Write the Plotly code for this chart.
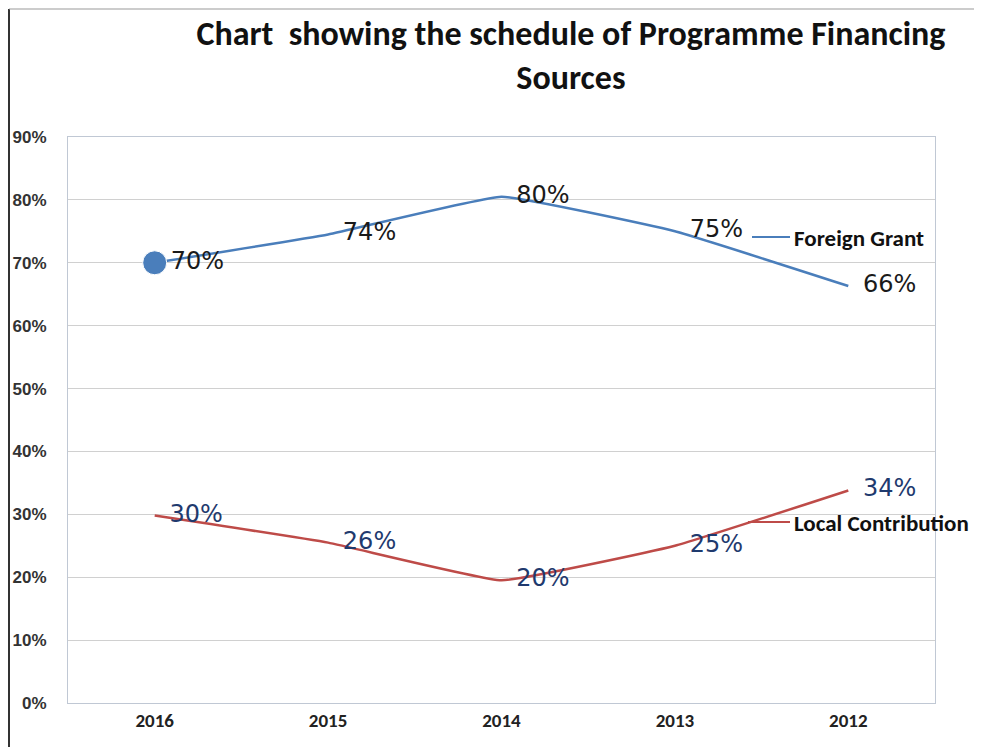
import plotly.graph_objects as go

years = ["2016", "2015", "2014", "2013", "2012"]
foreign_grant = [0.70, 0.745, 0.805, 0.75, 0.663]
foreign_labels = ["70%", "74%", "80%", "75%", "66%"]
local_contrib = [0.298, 0.255, 0.195, 0.25, 0.338]
local_labels = ["30%", "26%", "20%", "25%", "34%"]
y_ticks = [0, 0.1, 0.2, 0.3, 0.4, 0.5, 0.6, 0.7, 0.8, 0.9]

OFF = 8  # page offset of the rendered figure
W, H = 982, 747
L, R, T, B = 68 - OFF, 982 - (935 - OFF), 137 - OFF, 747 - (703 - OFF)
pw, ph = W - L - R, H - T - B

def px(x):
    return (x - OFF - L) / pw

def py(y):
    return 1 - (y - OFF - T) / ph

CAL = "Carlito, Liberation Sans Narrow, Open Sans"

fig = go.Figure()
fig.add_trace(go.Scatter(
    x=years, y=foreign_grant, mode="lines+markers+text",
    name="Foreign Grant",
    line=dict(color="#4a7ebb", width=2.5, shape="spline", smoothing=0.3),
    marker=dict(size=[24, 22, 22, 22, 22], color="#4a7ebb", opacity=[1, 0, 0, 0, 0]),
    text=foreign_labels, textposition="middle right",
    textfont=dict(family="DejaVu Sans", size=24, color="#1a1a1a"),
    cliponaxis=False,
))
fig.add_trace(go.Scatter(
    x=years, y=local_contrib, mode="lines+markers+text",
    name="Local Contribution",
    line=dict(color="#be4b48", width=2.5, shape="spline", smoothing=0.3),
    marker=dict(size=22, color="#be4b48", opacity=0),
    text=local_labels, textposition="middle right",
    textfont=dict(family="DejaVu Sans", size=24, color="#1f3a6e"),
    cliponaxis=False,
))

fig.add_shape(type="line", xref="paper", yref="paper",
              x0=px(752), x1=px(790), y0=py(237), y1=py(237),
              line=dict(color="#4a7ebb", width=2))
fig.add_shape(type="line", xref="paper", yref="paper",
              x0=px(748), x1=px(790), y0=py(522), y1=py(522),
              line=dict(color="#be4b48", width=2))
fig.add_annotation(xref="paper", yref="paper", x=px(792), y=py(238),
                   xanchor="left", yanchor="middle", showarrow=False,
                   text="<b>Foreign Grant</b>",
                   font=dict(family=CAL, size=23, color="#111"))
fig.add_annotation(xref="paper", yref="paper", x=px(792), y=py(523),
                   xanchor="left", yanchor="middle", showarrow=False,
                   text="<b>Local Contribution</b>",
                   font=dict(family=CAL, size=23, color="#111"))

# outer frame lines (left and top)
fig.add_shape(type="line", xref="paper", yref="paper",
              x0=px(9), x1=px(9), y0=py(760), y1=py(9),
              line=dict(color="#333", width=2))
fig.add_shape(type="line", xref="paper", yref="paper",
              x0=px(9), x1=px(990), y0=py(9), y1=py(9),
              line=dict(color="#999", width=1))

fig.update_layout(
    width=W, height=H,
    margin=dict(l=L, r=R, t=T, b=B, autoexpand=False),
    paper_bgcolor="white", plot_bgcolor="white",
    showlegend=False,
    title=dict(
        text="<b>Chart  showing the schedule of Programme Financing<br>Sources</b>",
        x=px(565), xanchor="center", y=1 - (45 - OFF) / H, yanchor="middle",
        font=dict(family=CAL, size=34, color="#111"),
    ),
)
fig.update_xaxes(
    type="category", showgrid=False, showline=True, linecolor="#c0c8d4",
    mirror=True, ticks="", range=[-0.5, 4.5], automargin=False,
    tickfont=dict(family=CAL, size=19, color="#222", weight="bold"),
)
fig.update_yaxes(
    range=[0, 0.9], tickvals=y_ticks, tickformat=".0%",
    showgrid=True, gridcolor="#d0d0d0", gridwidth=1,
    showline=True, linecolor="#c0c8d4", mirror=True, automargin=False,
    zeroline=False, ticks="", ticklabelstandoff=17,
    tickfont=dict(family="Liberation Sans", size=17, color="#333", weight="bold"),
)

fig.write_html("out.html")
